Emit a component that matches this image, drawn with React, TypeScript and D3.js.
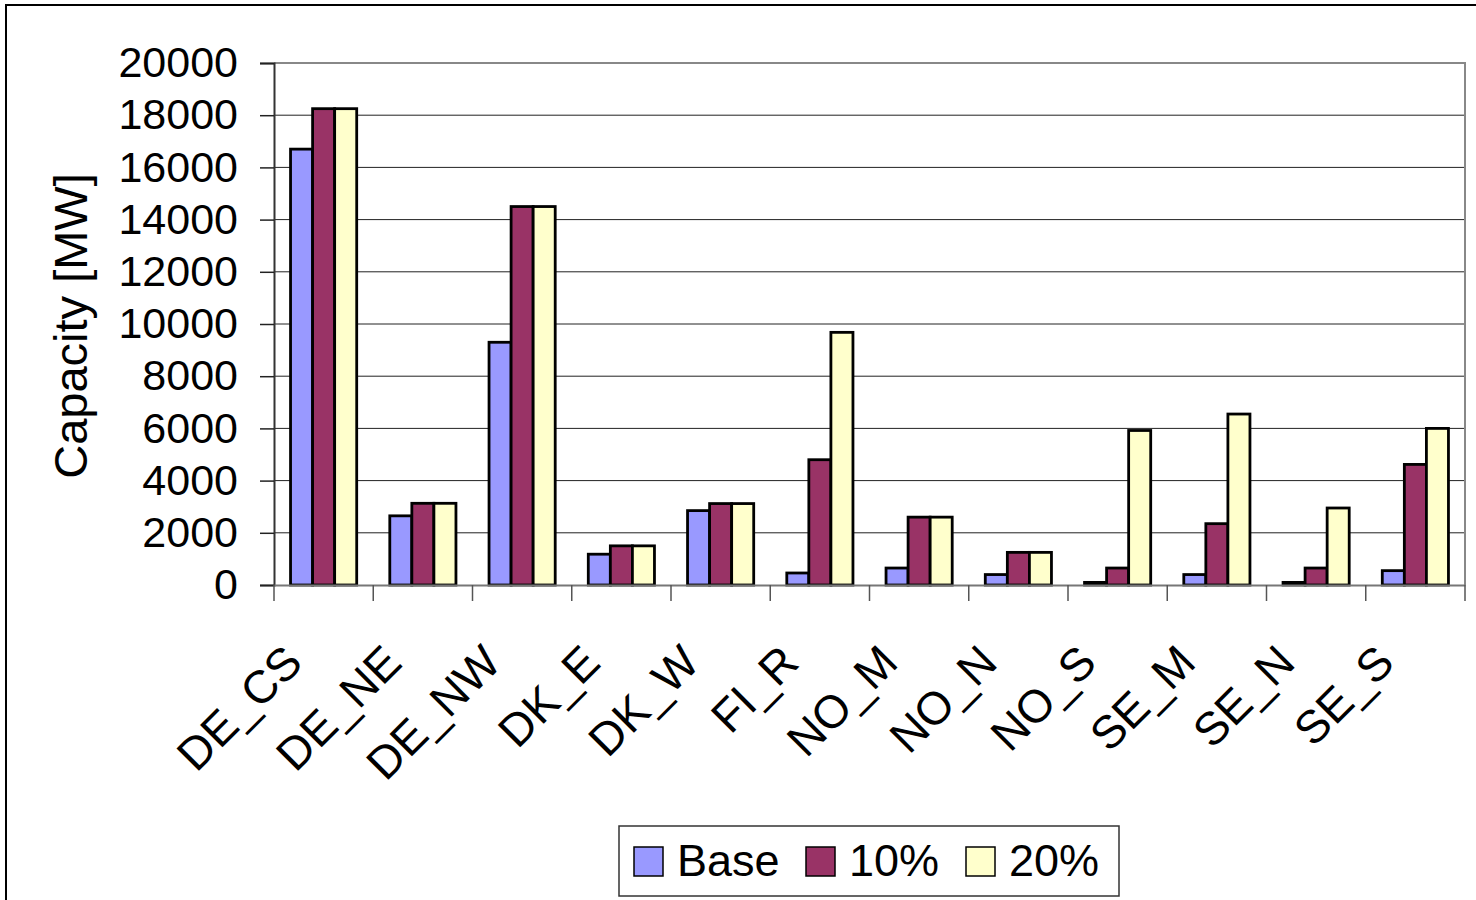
import { useEffect, useRef } from 'react';
import * as d3 from 'd3';

const regions = ['DE_CS', 'DE_NE', 'DE_NW', 'DK_E', 'DK_W', 'FI_R', 'NO_M', 'NO_N', 'NO_S', 'SE_M', 'SE_N', 'SE_S'];
const seriesNames = ['Base', '10%', '20%'];
const baseValues = [16700, 2650, 9300, 1180, 2850, 460, 650, 400, 100, 400, 100, 550];
const tenValues = [18250, 3130, 14500, 1500, 3120, 4800, 2600, 1250, 650, 2350, 650, 4620];
const twentyValues = [18250, 3130, 14500, 1500, 3120, 9680, 2600, 1250, 5920, 6550, 2950, 6000];
const yTicks = [0, 2000, 4000, 6000, 8000, 10000, 12000, 14000, 16000, 18000, 20000];
const colors = ['#9999FF', '#993366', '#FFFFCC'];

const W = 1476;
const H = 900;
const font = '"Liberation Sans", Arial, sans-serif';

const App = () => {
  const svgRef = useRef(null);

  useEffect(() => {
    const svg = d3.select(svgRef.current);
    svg.selectAll('*').remove();

    const plot = { left: 274, top: 63, right: 1465, bottom: 585 };

    // outer frame
    svg.append('rect')
      .attr('x', 6).attr('y', 5)
      .attr('width', W).attr('height', H)
      .attr('fill', '#fff').attr('stroke', '#000').attr('stroke-width', 2);

    const x = d3.scaleBand().domain(regions).range([plot.left, plot.right]);
    const inner = d3.scaleBand().domain(seriesNames).range([0, x.bandwidth()]).paddingInner(0).paddingOuter(0.75);
    const y = d3.scaleLinear().domain([0, 20000]).range([plot.bottom, plot.top]);

    const g = svg.append('g');

    // gridlines
    g.selectAll('line.grid')
      .data(yTicks.filter(t => t > 0 && t < 20000))
      .join('line')
      .attr('x1', plot.left).attr('x2', plot.right)
      .attr('y1', d => y(d)).attr('y2', d => y(d))
      .attr('stroke', '#222').attr('stroke-width', 1);

    // plot border (top/right gray)
    g.append('path')
      .attr('d', `M${plot.left},${plot.top}H${plot.right}V${plot.bottom}`)
      .attr('fill', 'none').attr('stroke', '#888').attr('stroke-width', 2);

    // bars
    const series = [baseValues, tenValues, twentyValues];
    series.forEach((vals, si) => {
      g.append('g')
        .selectAll('rect')
        .data(vals)
        .join('rect')
        .attr('x', (_, i) => (x(regions[i]) as number) + (inner(seriesNames[si]) as number))
        .attr('y', d => y(d))
        .attr('width', inner.bandwidth())
        .attr('height', d => y(0) - y(d))
        .attr('fill', colors[si])
        .attr('stroke', '#000')
        .attr('stroke-width', 2.8);
    });

    // y axis
    const yAxis = g.append('g')
      .attr('transform', `translate(${plot.left},0)`)
      .call(d3.axisLeft(y).tickValues(yTicks).tickSize(14).tickPadding(22).tickFormat(d => String(d)));
    yAxis.select('path').attr('stroke', '#333').attr('stroke-width', 2);
    yAxis.selectAll('line').attr('stroke', '#222').attr('stroke-width', 1.5);
    yAxis.selectAll('text')
      .attr('fill', '#000')
      .attr('font-family', font)
      .attr('font-size', 43);

    // x axis
    const xAxis = g.append('g')
      .attr('transform', `translate(0,${plot.bottom})`)
      .call(d3.axisBottom(x).tickSize(0).tickFormat(() => ''));
    xAxis.select('path').attr('stroke', '#777').attr('stroke-width', 2);
    g.selectAll('line.xtick')
      .data(d3.range(regions.length + 1))
      .join('line')
      .attr('x1', i => plot.left + i * x.step()).attr('x2', i => plot.left + i * x.step())
      .attr('y1', plot.bottom).attr('y2', plot.bottom + 16)
      .attr('stroke', '#555').attr('stroke-width', 1.5);

    g.selectAll('text.xlab')
      .data(regions)
      .join('text')
      .attr('text-anchor', 'end')
      .attr('font-family', font)
      .attr('font-size', 46)
      .attr('fill', '#000')
      .attr('transform', d => `translate(${(x(d) as number) + x.bandwidth() / 2 - 19},${plot.bottom + 80}) rotate(-45)`)
      .text(d => d);

    // y title
    svg.append('text')
      .attr('transform', `translate(87,326) rotate(-90)`)
      .attr('text-anchor', 'middle')
      .attr('font-family', font)
      .attr('font-size', 47)
      .attr('fill', '#000')
      .text('Capacity [MW]');

    // legend
    const leg = svg.append('g').attr('transform', 'translate(619,826)');
    leg.append('rect')
      .attr('width', 500).attr('height', 70)
      .attr('fill', '#fff').attr('stroke', '#333').attr('stroke-width', 1.5);
    const legX = [15, 187, 347];
    seriesNames.forEach((name, i) => {
      leg.append('rect')
        .attr('x', legX[i]).attr('y', 21)
        .attr('width', 29).attr('height', 29)
        .attr('fill', colors[i]).attr('stroke', '#000').attr('stroke-width', 1.5);
      leg.append('text')
        .attr('x', legX[i] + 43).attr('y', 50)
        .attr('font-family', font)
        .attr('font-size', 45)
        .attr('fill', '#000')
        .text(name);
    });
  }, []);

  return (
    <div style={{ position: 'fixed', left: 0, top: 0 }}>
      <svg ref={svgRef} width={W} height={H} style={{ display: 'block' }} />
    </div>
  );
};

export default App;
